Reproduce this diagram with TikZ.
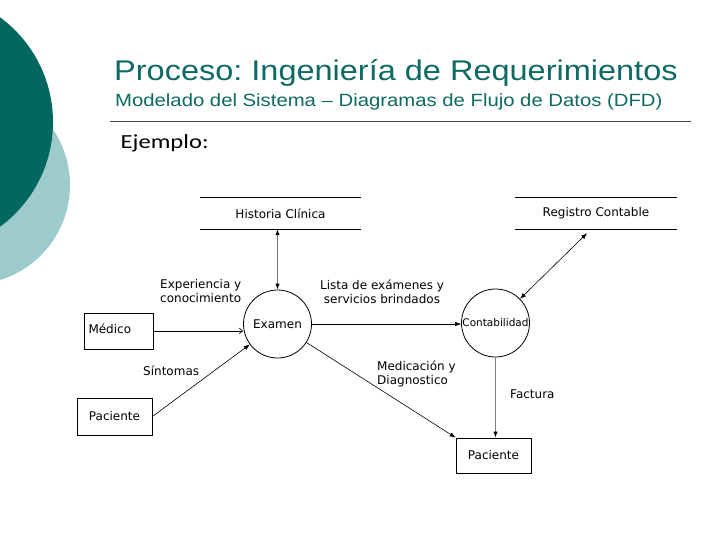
\documentclass[tikz,border=0pt]{standalone}
\usepackage{fontspec}
\setmainfont{DejaVu Sans}
\newfontfamily\titlefont{Liberation Sans}
\newfontfamily\ejfont{Carlito}
\usetikzlibrary{arrows.meta}
\definecolor{tealdark}{HTML}{02685F}
\definecolor{teallight}{HTML}{9DCBCB}
\definecolor{titlecol}{HTML}{0E6A62}
\frenchspacing
\begin{document}
\begin{tikzpicture}[x=1pt,y=-1pt,
  lbl/.style={inner sep=0pt, font=\fontsize{12}{14}\selectfont, align=left},
  entbox/.style={draw, line width=0.8pt, inner sep=0pt, font=\fontsize{12}{14}\selectfont},
  proc/.style={draw, circle, line width=0.8pt, minimum size=68pt, inner sep=0pt, font=\fontsize{12}{14}\selectfont},
  store/.style={inner sep=0pt, minimum height=31pt, font=\fontsize{12}{14}\selectfont},
  storeline/.style={line width=0.8pt},
  flow/.style={line width=0.6pt, -{Latex[length=6pt,width=4.5pt]}},
  flowopen/.style={line width=0.6pt, -{Straight Barb[length=3.5pt,width=6pt]}},
  bflow/.style={line width=0.6pt, {Latex[length=6pt,width=4.5pt]}-{Latex[length=6pt,width=4.5pt]}},
  gflow/.style={line width=0.9pt, draw=black!55, {Latex[length=6pt,width=4.5pt,color=black]}-{Latex[length=6pt,width=4.5pt,color=black]}}
]
\useasboundingbox (0,0) rectangle (728,546);
\fill[white] (0,0) rectangle (728,546);
% decoration
\begin{scope}
\clip (0,0) rectangle (728,546);
\fill[teallight] (-29.5,185) circle (99.5pt);
\fill[tealdark] (-77,122) circle (130pt);
\end{scope}
% titles
\node[anchor=base west, inner sep=0pt, text=titlecol, font=\titlefont\fontsize{28.5}{30}\selectfont] (t1) at (114,80) {\scalebox{1.14}[1]{Proceso: Ingeniería de Requerimientos}};
\node[anchor=base west, inner sep=0pt, text=titlecol, font=\titlefont\fontsize{17.7}{20}\selectfont] (t2) at (115,106.5) {\scalebox{1.147}[1]{Modelado del Sistema – Diagramas de Flujo de Datos (DFD)}};
\coordinate (s1) at (110,121);
\coordinate (s2) at (691,121);
\draw[line width=1pt, black!75] (s1) -- (s2);
\node[anchor=base west, inner sep=0pt, font=\ejfont\fontsize{20}{22}\selectfont] (ej) at (120.5,148) {\scalebox{1.23}[1]{Ejemplo:}};
% stores
\node[store, minimum width=161pt] (hc) at (280.5,213.5) {Historia Clínica};
\draw[storeline] (hc.north west) -- (hc.north east) (hc.south west) -- (hc.south east);
\node[store, minimum width=162pt] (rc) at (596,213.5) {Registro Contable};
\draw[storeline] (rc.north west) -- (rc.north east) (rc.south west) -- (rc.south east);
% processes
\node[proc] (ex) at (277.5,324) {Examen};
\node[proc, font=\fontsize{10.5}{12}\selectfont] (ct) at (495.5,323) {Contabilidad};
% entities
\node[entbox, minimum width=69pt, minimum height=36pt, text width=60pt, align=left] (md) at (118.5,331) {\raisebox{4pt}{Médico}};
\node[entbox, minimum width=75pt, minimum height=37pt] (pl) at (114.5,416.5) {Paciente};
\node[entbox, minimum width=75pt, minimum height=35pt] (pr) at (493.5,455.5) {Paciente};
% connectors
\draw[gflow] (ex.north) -- (ex.north |- hc.south);
\coordinate (rcend) at ([xshift=-9pt,yshift=-4pt]rc.south);
\draw[bflow] (rcend) -- (ct);
\draw[flowopen] (md.east) -- (md.east -| ex.west);
\draw[flow] (pl.east) -- (ex);
\draw[flow] (ex.east) -- (ex.east -| ct.west);
\draw[flow] (ex) -- (pr.north west);
\draw[line width=1pt, draw=black!50, -{Latex[length=6pt,width=4.5pt,color=black]}] (ct.south) -- (ct.south |- pr.north);
% labels
\node[lbl, anchor=west] (l1) at (160,291.5) {Experiencia y\\conocimiento};
\node[lbl, align=center] (l2) at (382,291.5) {Lista de exámenes y\\servicios brindados};
\node[lbl, anchor=west] (l3) at (143,371) {Síntomas};
\node[lbl, anchor=west, text depth=0pt] (l4) at (377,372.5) {Medicación y\\Diagnostico};
\node[lbl, anchor=west] (l5) at (510,394) {Factura};
\end{tikzpicture}
\end{document}
